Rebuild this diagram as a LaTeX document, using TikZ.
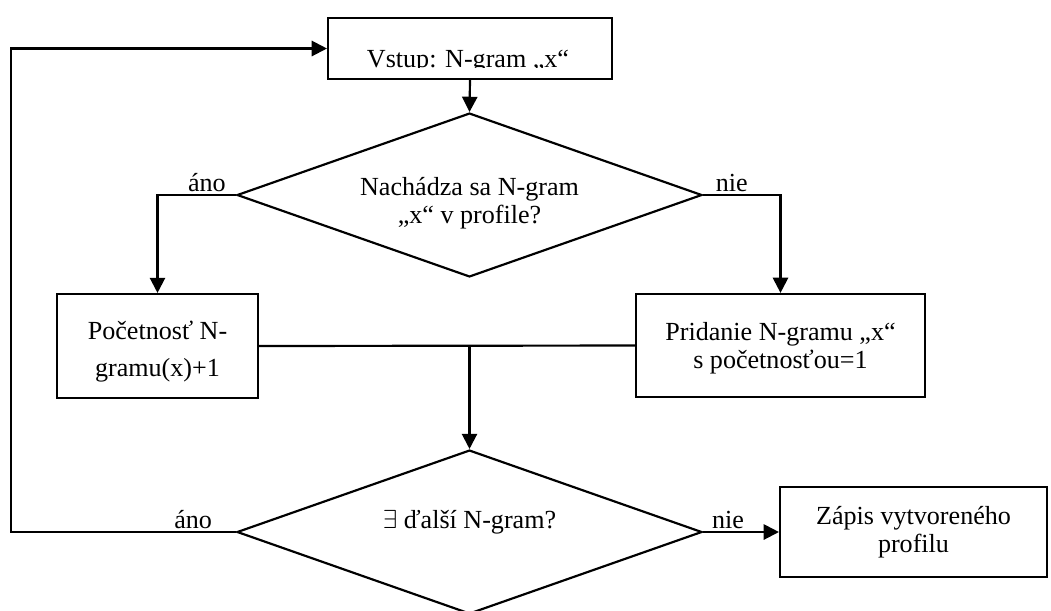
\documentclass[tikz,border=0pt]{standalone}
\usepackage{fontspec}
\setmainfont{Liberation Serif}
\usetikzlibrary{arrows.meta,shapes.geometric,positioning}
\tikzset{
	block/.style={draw=black, rectangle, align=center, inner sep=0pt},
	decision/.style={draw=black, diamond, aspect=2.84, inner sep=0pt,
		minimum width=213.9pt, minimum height=75.4pt},
	flow/.style={draw=black, -{Triangle[length=7pt,width=7pt]}},
	plain/.style={draw=black},
	answer/.style={above, inner sep=1pt},
}

\begin{document}
\begin{tikzpicture}[x=0.46pt, y=-0.46pt, line width=1pt, font=\fontsize{12}{13}\selectfont]
	\useasboundingbox (0,0) rectangle (1051,610);
	\clip (0,0) rectangle (1051,610);
	% boxes
	\node[block, minimum width=130.6pt, minimum height=28.1pt] (vstup) at (470,48.5) {};
	\begin{scope}
		\clip (328,18) rectangle (612,67);
		\node[anchor=base] (vstuptext) at (468,67) {Vstup: N-gram „x“};
	\end{scope}
	\node[decision] (d1) at (469.5,195) {};
		\node[align=center] (d1text) at (469.5,203) {Nachádza sa N-gram\\„x“ v profile?};
	\node[block, minimum width=92.5pt, minimum height=47.8pt] (pocet) at (157.5,346) {};
		\node[align=center] (pocettext) at (157.5,352) {Početnosť N-\\[4pt]gramu(x)+1};
	\node[block, minimum width=132.9pt, minimum height=47.4pt] (pridanie) at (780.5,345.5) {};
		\node[align=center] (pridanietext) at (780.5,348) {Pridanie N-gramu „x“\\s početnosťou=1};
	\node[decision] (d2) at (469.5,532) {};
		\node (d2text) at (469.5,522) {$\exists$ ďalší N-gram?};
	\node[block, minimum width=122.8pt, minimum height=41.4pt] (zapis) at (913.5,532)
		{Zápis vytvoreného\\profilu};
	% connectors
	\draw[flow] (vstup.south) -- (d1.north);
	\draw[flow] (d1.west) -- node[answer, pos=.37]{áno} (d1.west -| pocet.north) -- (pocet.north);
	\draw[flow] (d1.east) -- node[answer, pos=.37]{nie} (d1.east -| pridanie.north) -- (pridanie.north);
	\draw[plain] (pocet.east) -- (pridanie.west);
	\coordinate (spoj) at (pocet.east -| d2.north);
	\draw[flow] (spoj) -- (d2.north);
	\coordinate (navrat) at (11,532);
	\draw[flow] (d2.west) -- node[answer, pos=.19]{áno} (navrat) |- (vstup.west);
	\draw[flow] (d2.east) -- node[answer, pos=.33]{nie} (zapis.west);
\end{tikzpicture}
\end{document}
